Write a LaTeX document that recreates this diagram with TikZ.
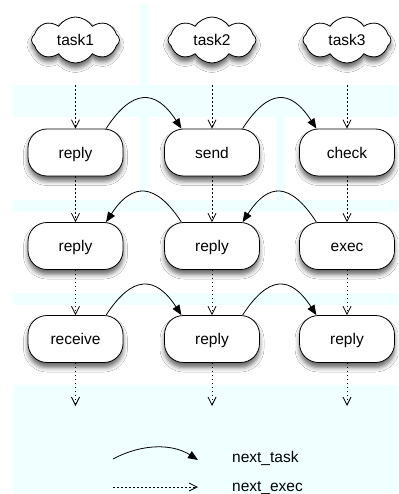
\documentclass[tikz,border=0pt]{standalone}
\usepackage{fontspec}
\setmainfont{Liberation Sans}
\usetikzlibrary{shapes.symbols,arrows.meta,shadows.blur}
\definecolor{bgcyan}{RGB}{240,255,255}
\begin{document}
\begin{tikzpicture}[x=1pt,y=-1pt,
  bg/.style={fill=bgcyan,draw=none},
  lbl/.style={font=\fontsize{15.5}{18}\selectfont,text height=11.6pt,text depth=0pt,inner sep=0pt},
  shade/.style={blur shadow={shadow xshift=0pt,shadow yshift=-5pt,shadow blur radius=4.5pt,shadow opacity=60}},
  task/.style={lbl,shade,cloud,cloud puffs=8,cloud puff arc=115,cloud ignores aspect,minimum width=88pt,minimum height=46pt,draw,fill=white,line width=0.8pt},
  state/.style={lbl,shade,rectangle,rounded corners=19pt,draw,fill=white,line width=0.8pt,minimum width=95pt,minimum height=47pt},
  nexttask/.style={-{Triangle[length=10pt,width=8pt]},line width=0.8pt},
  nextexec/.style={dash pattern=on 1.5pt off 2.5pt,line width=0.8pt,-{Straight Barb[length=8pt,width=8pt]}},
  legtext/.style={anchor=base west,inner sep=0pt,font=\fontsize{15.5}{18}\selectfont}
]
\useasboundingbox (0,0) rectangle (398,494);
\fill[white] (0,0) rectangle (398,494);
% background bands
\fill[bg] (140,5) rectangle (148,85);
\fill[bg] (13,85) rectangle (398,117);
\fill[bg] (140,117) rectangle (148,200);
\fill[bg] (276,117) rectangle (285,200);
\fill[bg] (13,200) rectangle (398,212);
\fill[bg] (13,293) rectangle (398,305);
\fill[bg] (13,385) rectangle (398,493);
% tasks
\node[task] (t1) at (75.5,40) {task1};
\node[task] (t2) at (212,40) {task2};
\node[task] (t3) at (347,40) {task3};
% states
\node[state] (a1) at (75.5,152.5) {reply};
\node[state] (a2) at (212,152.5) {send};
\node[state] (a3) at (347,152.5) {check};
\node[state] (b1) at (75.5,246) {reply};
\node[state] (b2) at (212,246) {reply};
\node[state] (b3) at (347,246) {exec};
\node[state] (c1) at (75.5,339) {receive};
\node[state] (c2) at (212,339) {reply};
\node[state] (c3) at (347,339) {reply};
% free ends
\coordinate (e1) at (75.5,406);
\coordinate (e2) at (212,406);
\coordinate (e3) at (347,406);
% next_exec (dotted)
\draw[nextexec,shorten <=22pt] (t1.south) -- (a1.north);
\draw[nextexec,shorten <=22pt] (t2.south) -- (a2.north);
\draw[nextexec,shorten <=22pt] (t3.south) -- (a3.north);
\draw[nextexec] (a1.south) -- (b1.north);
\draw[nextexec] (a2.south) -- (b2.north);
\draw[nextexec] (a3.south) -- (b3.north);
\draw[nextexec] (b1.south) -- (c1.north);
\draw[nextexec] (b2.south) -- (c2.north);
\draw[nextexec] (b3.south) -- (c3.north);
\draw[nextexec] (c1.south) -- (e1);
\draw[nextexec] (c2.south) -- (e2);
\draw[nextexec] (c3.south) -- (e3);
% next_task (curved)
\draw[nexttask] (a1.38) .. controls +(26,-40) and +(-26,-40) .. (a2.142);
\draw[nexttask] (a2.38) .. controls +(26,-40) and +(-26,-40) .. (a3.142);
\draw[nexttask] (b2.142) .. controls +(-26,-40) and +(26,-40) .. (b1.38);
\draw[nexttask] (b3.142) .. controls +(-26,-40) and +(26,-40) .. (b2.38);
\draw[nexttask] (c1.38) .. controls +(26,-40) and +(-26,-40) .. (c2.142);
\draw[nexttask] (c2.38) .. controls +(26,-40) and +(-26,-40) .. (c3.142);
% legend
\coordinate (l1) at (113,459);
\coordinate (l2) at (198,460);
\coordinate (l3) at (113,487);
\coordinate (l4) at (198,487);
\draw[nexttask] (l1) .. controls +(30,-16) and +(-25,-16) .. (l2);
\draw[nextexec] (l3) -- (l4);
\node[legtext] (lt) at (232,462) {next\_task};
\node[legtext] (le) at (232,491) {next\_exec};
\end{tikzpicture}
\end{document}
